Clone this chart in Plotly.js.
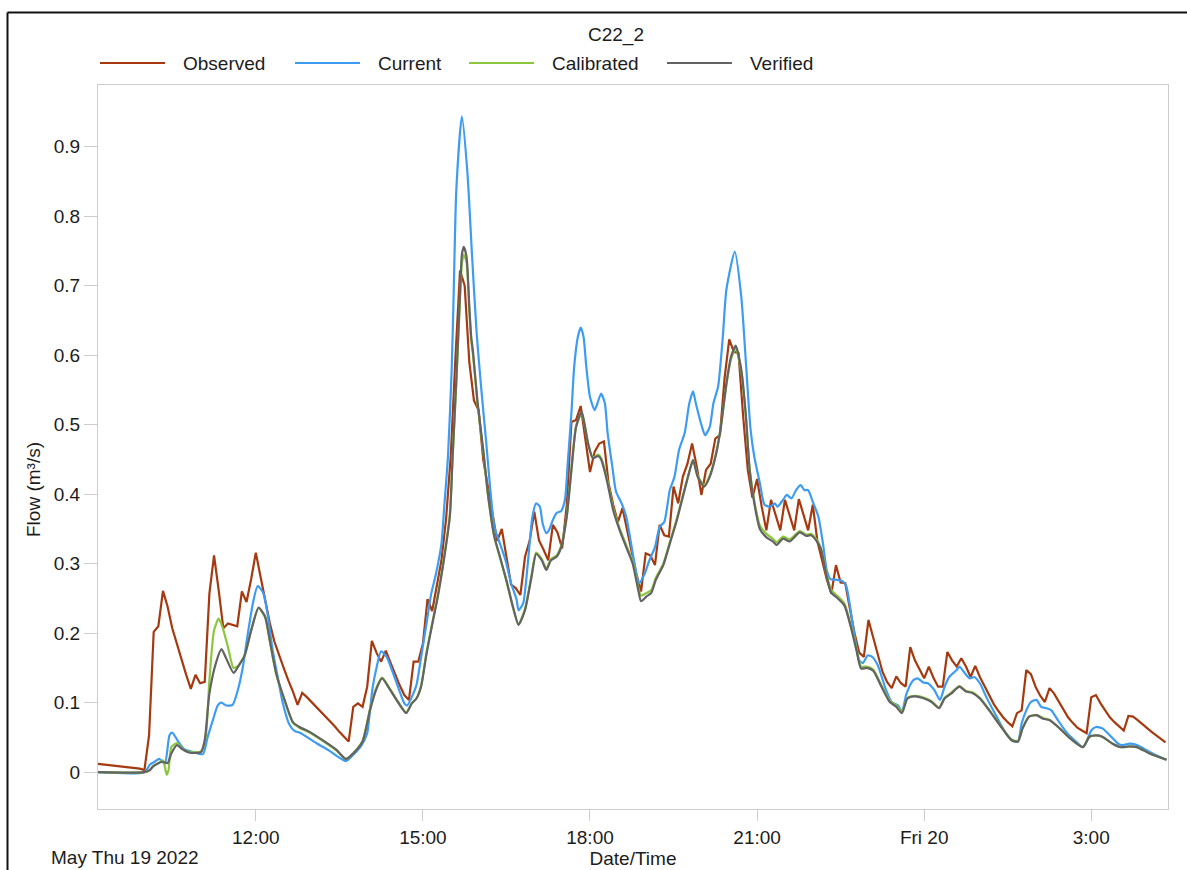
<!DOCTYPE html>
<html>
<head>
<meta charset="utf-8">
<script src="https://cdn.plot.ly/plotly-3.0.1.min.js"></script>
<style>
  html, body { margin: 0; padding: 0; background: #ffffff; }
  #chart { width: 1187px; height: 870px; }
</style>
</head>
<body>
<div id="chart"></div>
<script>
// C22_2 flow at the monitor: observed record and three model runs (m³/s)

const obsTime = ['09:10','09:55','10:00','10:05','10:10','10:15','10:20','10:25','10:30','10:35','10:40','10:45','10:50','10:55','11:00','11:05','11:10','11:15','11:20','11:25','11:30','11:35','11:40','11:45','11:50','11:55','12:00','12:05','12:10','12:15','12:20','12:25','12:30','12:35','12:40','12:45','12:50','12:55','13:00','13:05','13:10','13:15','13:20','13:25','13:30','13:35','13:40','13:45','13:50','13:55','14:00','14:05','14:10','14:15','14:20','14:25','14:30','14:35','14:40','14:45','14:50','14:55','15:00','15:05','15:10','15:15','15:20','15:25','15:30','15:35','15:40','15:45','15:50','15:55','16:00','16:05','16:10','16:15','16:20','16:25','16:30','16:35','16:40','16:45','16:50','16:55','17:00','17:05','17:10','17:15','17:20','17:25','17:30','17:35','17:40','17:45','17:50','17:55','18:00','18:05','18:10','18:15','18:20','18:25','18:30','18:35','18:40','18:45','18:50','18:55','19:00','19:05','19:10','19:15','19:20','19:25','19:30','19:35','19:40','19:45','19:50','19:55','20:00','20:05','20:10','20:15','20:20','20:25','20:30','20:35','20:40','20:45','20:50','20:55','21:00','21:05','21:10','21:15','21:20','21:25','21:30','21:35','21:40','21:45','21:50','21:55','22:00','22:05','22:10','22:15','22:20','22:25','22:30','22:35','22:40','22:45','22:50','22:55','23:00','23:05','23:10','23:15','23:20','23:25','23:30','23:35','23:40','23:45','23:50','23:55','00:00','00:05','00:10','00:15','00:20','00:25','00:30','00:35','00:40','00:45','00:50','00:55','01:00','01:05','01:10','01:15','01:20','01:25','01:30','01:35','01:40','01:45','01:50','01:55','02:00','02:05','02:10','02:15','02:20','02:25','02:30','02:35','02:40','02:45','02:50','02:55','03:00','03:05','03:10','03:15','03:20','03:25','03:30','03:35','03:40','03:45','03:50','03:55','04:00','04:05','04:10','04:15','04:20'];
const obsFlow = [0.012,0.005,0.003,0.053,0.202,0.210,0.261,0.238,0.207,0.185,0.160,0.140,0.120,0.140,0.128,0.130,0.257,0.312,0.262,0.207,0.214,0.212,0.210,0.260,0.245,0.278,0.316,0.282,0.248,0.215,0.188,0.168,0.150,0.132,0.116,0.097,0.114,0.108,0.101,0.094,0.088,0.081,0.074,0.066,0.058,0.051,0.044,0.094,0.099,0.094,0.123,0.189,0.172,0.159,0.175,0.158,0.141,0.125,0.111,0.104,0.159,0.159,0.185,0.249,0.232,0.269,0.305,0.365,0.455,0.595,0.722,0.700,0.590,0.535,0.521,0.450,0.410,0.375,0.333,0.350,0.308,0.270,0.265,0.255,0.310,0.333,0.375,0.334,0.320,0.305,0.356,0.345,0.322,0.385,0.504,0.507,0.527,0.478,0.432,0.461,0.473,0.476,0.416,0.385,0.360,0.380,0.349,0.315,0.285,0.260,0.315,0.312,0.298,0.356,0.341,0.339,0.411,0.387,0.425,0.444,0.473,0.440,0.399,0.435,0.444,0.480,0.485,0.567,0.623,0.605,0.603,0.512,0.435,0.395,0.422,0.382,0.348,0.392,0.368,0.348,0.392,0.370,0.348,0.393,0.370,0.348,0.385,0.332,0.305,0.278,0.257,0.298,0.273,0.272,0.235,0.200,0.172,0.166,0.219,0.195,0.170,0.145,0.130,0.121,0.138,0.128,0.123,0.180,0.161,0.148,0.135,0.152,0.136,0.123,0.123,0.173,0.161,0.152,0.164,0.152,0.137,0.153,0.137,0.124,0.111,0.098,0.088,0.079,0.072,0.066,0.085,0.089,0.147,0.141,0.123,0.110,0.101,0.121,0.113,0.101,0.090,0.079,0.071,0.064,0.060,0.056,0.108,0.111,0.099,0.088,0.079,0.072,0.066,0.060,0.081,0.080,0.075,0.069,0.063,0.058,0.053,0.048,0.043];

const curTime = ['09:10','10:00','10:06','10:11','10:16','10:22','10:27','10:30','10:36','10:43','10:50','11:03','11:08','11:14','11:19','11:23','11:28','11:35','11:41','11:46','11:51','11:57','12:02','12:08','12:13','12:18','12:24','12:29','12:36','12:42','12:47','13:05','13:19','13:37','13:45','13:54','14:00','14:03','14:06','14:10','14:15','14:21','14:28','14:35','14:40','14:43','14:48','14:53','14:58','15:04','15:09','15:14','15:20','15:23','15:27','15:31','15:33','15:36','15:42','15:48','15:53','15:58','16:03','16:08','16:12','16:17','16:23','16:29','16:35','16:41','16:43','16:48','16:53','16:58','17:02','17:06','17:09','17:13','17:16','17:20','17:24','17:29','17:33','17:36','17:40','17:43','17:47','17:50','17:53','17:56','18:00','18:05','18:08','18:12','18:16','18:19','18:24','18:28','18:34','18:39','18:43','18:48','18:53','18:59','19:04','19:10','19:15','19:20','19:26','19:31','19:36','19:42','19:47','19:51','19:54','20:00','20:04','20:09','20:13','20:18','20:23','20:27','20:36','20:43','20:48','20:53','20:57','21:03','21:08','21:14','21:19','21:22','21:28','21:32','21:37','21:42','21:47','21:51','21:55','22:00','22:06','22:11','22:15','22:19','22:25','22:32','22:36','22:43','22:50','22:54','22:59','23:04','23:10','23:19','23:25','23:32','23:36','23:41','23:48','23:53','23:59','00:04','00:11','00:17','00:22','00:27','00:35','00:38','00:44','00:49','00:54','01:00','01:07','01:18','01:28','01:36','01:41','01:45','01:50','01:55','02:01','02:06','02:12','02:17','02:24','02:33','02:42','02:51','02:55','03:00','03:05','03:12','03:20','03:29','03:34','03:41','03:47','03:54','04:06','04:21'];
const curFlow = [0,0,0.011,0.015,0.019,0.012,0.053,0.057,0.045,0.033,0.030,0.026,0.050,0.076,0.096,0.100,0.096,0.097,0.120,0.151,0.196,0.244,0.268,0.258,0.225,0.177,0.134,0.100,0.069,0.059,0.057,0.042,0.031,0.016,0.025,0.039,0.056,0.089,0.123,0.150,0.174,0.166,0.142,0.116,0.099,0.096,0.108,0.125,0.165,0.215,0.257,0.285,0.329,0.382,0.454,0.580,0.680,0.838,0.944,0.862,0.742,0.630,0.550,0.478,0.416,0.353,0.329,0.305,0.272,0.248,0.233,0.243,0.300,0.368,0.387,0.382,0.358,0.344,0.349,0.363,0.373,0.376,0.392,0.444,0.517,0.584,0.627,0.640,0.627,0.584,0.540,0.521,0.531,0.545,0.531,0.488,0.440,0.404,0.387,0.368,0.339,0.300,0.272,0.286,0.305,0.324,0.353,0.360,0.406,0.425,0.464,0.488,0.531,0.548,0.531,0.500,0.485,0.497,0.531,0.555,0.625,0.695,0.749,0.684,0.589,0.493,0.454,0.416,0.385,0.382,0.387,0.382,0.392,0.399,0.394,0.406,0.413,0.406,0.406,0.389,0.368,0.329,0.291,0.278,0.277,0.275,0.268,0.214,0.161,0.157,0.168,0.166,0.154,0.118,0.101,0.096,0.087,0.113,0.132,0.135,0.129,0.128,0.118,0.104,0.123,0.137,0.147,0.152,0.142,0.135,0.137,0.128,0.108,0.080,0.056,0.045,0.044,0.070,0.089,0.101,0.104,0.094,0.092,0.089,0.075,0.058,0.046,0.036,0.044,0.060,0.065,0.063,0.053,0.041,0.039,0.041,0.040,0.036,0.027,0.018];

const calTime = ['09:10','10:00','10:06','10:09','10:15','10:20','10:24','10:26','10:29','10:35','10:41','10:49','11:01','11:06','11:10','11:15','11:20','11:24','11:30','11:36','11:41','11:48','11:55','12:03','12:10','12:15','12:22','12:31','12:40','12:47','12:58','13:12','13:27','13:37','13:45','13:55','14:03','14:10','14:16','14:24','14:33','14:42','14:48','14:53','14:58','15:04','15:11','15:16','15:22','15:29','15:32','15:36','15:40','15:42','15:44','15:47','15:50','15:52','15:54','15:59','16:05','16:10','16:17','16:23','16:30','16:37','16:43','16:50','16:57','17:02','17:08','17:13','17:18','17:24','17:29','17:35','17:40','17:45','17:51','17:54','17:58','18:03','18:09','18:12','18:18','18:25','18:32','18:39','18:46','18:52','18:55','19:01','19:06','19:11','19:19','19:26','19:33','19:40','19:47','19:51','19:56','20:03','20:09','20:16','20:21','20:27','20:32','20:37','20:43','20:48','20:52','20:57','21:03','21:10','21:17','21:21','21:28','21:35','21:46','21:53','21:58','22:04','22:09','22:15','22:20','22:27','22:34','22:41','22:47','22:52','22:58','23:05','23:14','23:23','23:30','23:36','23:42','23:50','23:55','00:00','00:08','00:16','00:22','00:29','00:38','00:45','00:52','01:00','01:10','01:23','01:34','01:41','01:46','01:53','02:01','02:08','02:15','02:26','02:37','02:51','02:58','03:05','03:12','03:23','03:32','03:41','03:49','04:03','04:21'];
const calFlow = [0,0,0.003,0.008,0.013,0.017,-0.004,0.003,0.036,0.042,0.034,0.029,0.030,0.051,0.132,0.204,0.221,0.209,0.180,0.150,0.153,0.168,0.204,0.236,0.223,0.189,0.141,0.103,0.071,0.064,0.057,0.045,0.031,0.019,0.027,0.045,0.091,0.122,0.136,0.121,0.102,0.086,0.099,0.106,0.124,0.173,0.221,0.254,0.302,0.370,0.452,0.560,0.680,0.732,0.745,0.734,0.665,0.622,0.600,0.528,0.462,0.400,0.338,0.309,0.275,0.237,0.213,0.235,0.283,0.316,0.307,0.293,0.307,0.312,0.326,0.370,0.436,0.497,0.517,0.501,0.473,0.453,0.457,0.452,0.424,0.380,0.351,0.327,0.303,0.266,0.254,0.258,0.262,0.280,0.300,0.331,0.362,0.398,0.433,0.449,0.427,0.413,0.427,0.460,0.497,0.558,0.595,0.610,0.577,0.510,0.436,0.390,0.355,0.343,0.336,0.331,0.339,0.335,0.347,0.342,0.343,0.335,0.322,0.284,0.262,0.253,0.243,0.211,0.178,0.152,0.152,0.148,0.125,0.103,0.096,0.087,0.107,0.110,0.109,0.107,0.102,0.093,0.107,0.114,0.124,0.117,0.115,0.107,0.090,0.066,0.047,0.045,0.063,0.080,0.082,0.078,0.075,0.063,0.049,0.036,0.051,0.053,0.051,0.041,0.036,0.037,0.036,0.027,0.018];

const verTime = ['09:10','10:00','10:06','10:09','10:15','10:20','10:25','10:29','10:35','10:41','10:49','11:01','11:05','11:10','11:17','11:23','11:28','11:36','11:41','11:48','11:55','12:03','12:10','12:15','12:22','12:31','12:40','12:47','12:58','13:12','13:27','13:37','13:45','13:55','14:03','14:10','14:16','14:24','14:33','14:42','14:48','14:53','14:58','15:04','15:11','15:16','15:22','15:29','15:32','15:36','15:40','15:42','15:44','15:47','15:50','15:52','15:54','15:59','16:05','16:10','16:17','16:23','16:30','16:37','16:43','16:50','16:57','17:02','17:08','17:13','17:18','17:24','17:29','17:35','17:40','17:45','17:51','17:54','17:58','18:03','18:09','18:12','18:18','18:25','18:32','18:39','18:46','18:52','18:55','19:01','19:06','19:11','19:19','19:26','19:33','19:40','19:47','19:51','19:56','20:03','20:09','20:16','20:21','20:27','20:32','20:37','20:43','20:48','20:52','20:57','21:03','21:10','21:17','21:21','21:28','21:35','21:46','21:53','21:58','22:04','22:09','22:15','22:20','22:27','22:34','22:41','22:47','22:52','22:58','23:05','23:14','23:23','23:30','23:36','23:42','23:50','23:55','00:00','00:08','00:16','00:22','00:29','00:38','00:45','00:52','01:00','01:10','01:23','01:34','01:41','01:46','01:53','02:01','02:08','02:15','02:26','02:37','02:51','02:58','03:05','03:12','03:23','03:32','03:41','03:49','04:03','04:21'];
const verFlow = [0,0,0.003,0.008,0.013,0.015,0.013,0.027,0.039,0.033,0.028,0.029,0.046,0.113,0.157,0.177,0.164,0.143,0.152,0.168,0.204,0.237,0.224,0.190,0.142,0.104,0.072,0.065,0.058,0.046,0.032,0.019,0.027,0.044,0.089,0.120,0.135,0.120,0.101,0.085,0.099,0.106,0.123,0.171,0.219,0.252,0.300,0.368,0.454,0.565,0.690,0.745,0.756,0.742,0.670,0.627,0.605,0.531,0.464,0.401,0.339,0.310,0.276,0.238,0.212,0.233,0.281,0.314,0.305,0.291,0.305,0.310,0.324,0.368,0.435,0.497,0.519,0.502,0.473,0.452,0.455,0.450,0.421,0.377,0.348,0.324,0.300,0.262,0.246,0.253,0.258,0.277,0.298,0.329,0.360,0.396,0.432,0.449,0.425,0.411,0.425,0.459,0.497,0.560,0.598,0.614,0.579,0.512,0.435,0.387,0.350,0.338,0.332,0.327,0.336,0.332,0.345,0.340,0.341,0.333,0.320,0.281,0.258,0.250,0.240,0.209,0.176,0.149,0.150,0.146,0.123,0.101,0.094,0.085,0.106,0.109,0.108,0.106,0.101,0.092,0.106,0.113,0.123,0.116,0.114,0.106,0.089,0.065,0.046,0.044,0.063,0.080,0.082,0.077,0.075,0.063,0.049,0.036,0.051,0.053,0.051,0.041,0.036,0.037,0.036,0.027,0.018];

const seriesNames = ['Observed', 'Current', 'Calibrated', 'Verified'];
const seriesColors = ['#a53a10', '#3d9cf2', '#8cc63e', '#636363'];

const xTickVals = ['12:00', '15:00', '18:00', '21:00', '00:00', '03:00'];
const xTickText = ['12:00', '15:00', '18:00', '21:00', 'Fri 20', '3:00'];
const yTickVals = [0, 0.1, 0.2, 0.3, 0.4, 0.5, 0.6, 0.7, 0.8, 0.9];
const yTickText = ['0', '0.1', '0.2', '0.3', '0.4', '0.5', '0.6', '0.7', '0.8', '0.9'];

// The record runs from Thursday morning into Friday: hours before 09:00 belong to the 20th.
const stamp = t => (parseInt(t, 10) < 9 ? '2022-05-20 ' : '2022-05-19 ') + t;

const FONT = 'Liberation Sans, Arial, sans-serif';
const INK = '#1c1c1c';
const FRAME = '#cdcdcd';

// Plot-area geometry (pixels) used to place the decorations drawn in paper space.
const M = { l: 98, r: 19, t: 85, b: 61 };
const W = 1187, H = 870;
const PW = W - M.l - M.r, PH = H - M.t - M.b;
const PX = x => (x - M.l) / PW;
const PY = y => (H - M.b - y) / PH;

const sets = [
  [obsTime, obsFlow, 'linear'],
  [curTime, curFlow, 'spline'],
  [calTime, calFlow, 'spline'],
  [verTime, verFlow, 'spline']
];

const traces = sets.map(([t, v, shape], i) => ({
  type: 'scatter',
  mode: 'lines',
  name: seriesNames[i],
  x: t.map(stamp),
  y: v,
  line: { color: seriesColors[i], width: 2.2, shape: shape, smoothing: 0.6 },
  showlegend: false,
  hoverinfo: 'skip'
}));

// Legend row: a long colour swatch followed by the series name.
const legendLineStart = [100, 295, 469, 667];
const legendLineLen = 65;
const legendY = 63;
const shapes = [];
const annotations = [];
seriesNames.forEach((name, i) => {
  const x0 = legendLineStart[i];
  shapes.push({
    type: 'line', xref: 'paper', yref: 'paper',
    x0: PX(x0), x1: PX(x0 + legendLineLen), y0: PY(legendY), y1: PY(legendY),
    line: { color: seriesColors[i], width: 2 }
  });
  annotations.push({
    xref: 'paper', yref: 'paper', x: PX(x0 + legendLineLen + 16), y: PY(legendY),
    xanchor: 'left', yanchor: 'middle', showarrow: false, text: name,
    font: { family: FONT, size: 19, color: INK }
  });
});

// Outer frame: top and left edges of the panel border.
shapes.push({
  type: 'line', xref: 'paper', yref: 'paper',
  x0: PX(7.5), x1: PX(1195), y0: PY(12.5), y1: PY(12.5),
  line: { color: '#111111', width: 2 }
});
shapes.push({
  type: 'line', xref: 'paper', yref: 'paper',
  x0: PX(7.5), x1: PX(7.5), y0: PY(12.5), y1: PY(880),
  line: { color: '#111111', width: 2 }
});

// Start date under the time axis.
annotations.push({
  xref: 'paper', yref: 'paper', x: PX(49), y: PY(857),
  xanchor: 'left', yanchor: 'middle', showarrow: false, text: 'May Thu 19 2022',
  font: { family: FONT, size: 19, color: INK }
});

// Flow axis label, set a little below the middle of the axis.
annotations.push({
  xref: 'paper', yref: 'paper', x: PX(33), y: PY(490),
  xanchor: 'center', yanchor: 'middle', showarrow: false, textangle: -90,
  text: 'Flow (m³/s)',
  font: { family: FONT, size: 19, color: INK }
});

const layout = {
  width: W, height: H,
  margin: M,
  paper_bgcolor: '#ffffff',
  plot_bgcolor: '#ffffff',
  font: { family: FONT, size: 19, color: INK },
  showlegend: false,
  title: {
    text: 'C22_2',
    font: { family: FONT, size: 19, color: INK },
    x: PX(616), xref: 'paper', xanchor: 'center',
    y: 1 - 34 / H, yref: 'container', yanchor: 'middle'
  },
  xaxis: {
    type: 'date',
    range: ['2022-05-19 09:10', '2022-05-20 04:22:40'],
    tickvals: xTickVals.map(stamp),
    ticktext: xTickText,
    ticks: 'outside', ticklen: 11, tickcolor: FRAME, tickwidth: 1,
    tickfont: { family: FONT, size: 19, color: INK },
    showline: true, mirror: true, linecolor: FRAME, linewidth: 1,
    showgrid: false, zeroline: false,
    title: { text: 'Date/Time', font: { family: FONT, size: 19, color: INK }, standoff: 4 }
  },
  yaxis: {
    range: [-0.053, 0.989],
    tickvals: yTickVals,
    ticktext: yTickText,
    ticks: 'outside', ticklen: 13, tickcolor: FRAME, tickwidth: 1,
    tickfont: { family: FONT, size: 19, color: INK },
    showline: true, mirror: true, linecolor: FRAME, linewidth: 1,
    showgrid: false, zeroline: false
  },
  shapes: shapes,
  annotations: annotations
};

Plotly.newPlot('chart', traces, layout, { staticPlot: true, displayModeBar: false });
</script>
</body>
</html>
